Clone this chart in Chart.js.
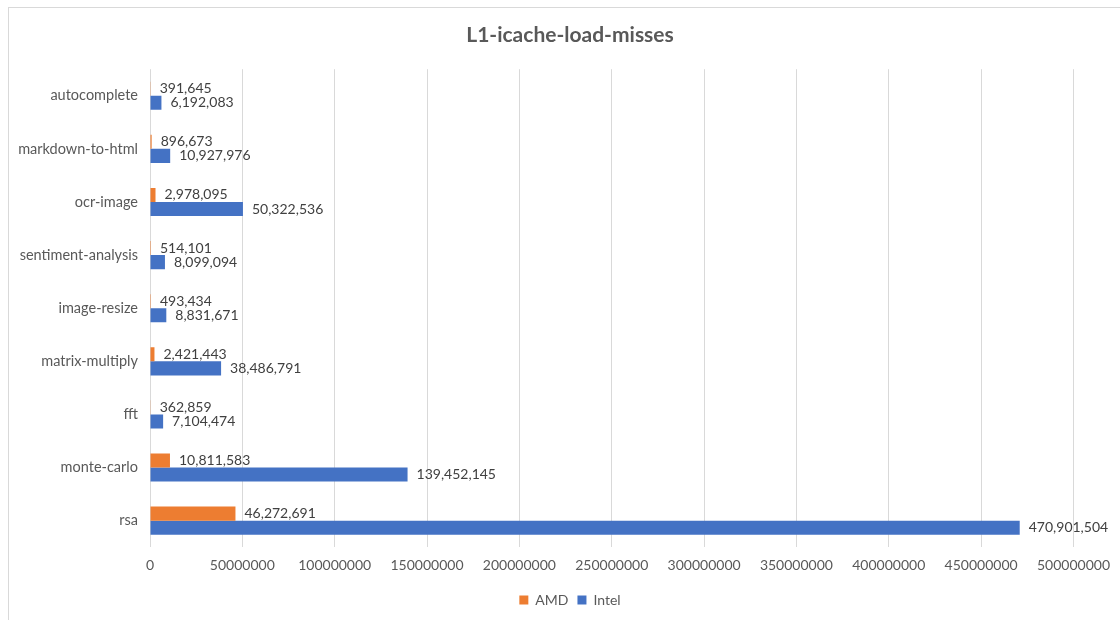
<!DOCTYPE html>
<html>
<head>
<meta charset="utf-8">
<script src="https://cdn.jsdelivr.net/npm/chart.js@4"></script>
<style>
  body { margin: 0; background: #fff; }
  #frame {
    position: absolute; left: 8px; top: 7px;
    width: 1112px; height: 613px;
    border-left: 1px solid #d9d9d9; border-top: 1px solid #d9d9d9;
  }
</style>
</head>
<body>
<div id="frame"><canvas id="grafico" width="1111" height="612"></canvas></div>
<script>
// dados
const categorias = ['autocomplete', 'markdown-to-html', 'ocr-image', 'sentiment-analysis', 'image-resize', 'matrix-multiply', 'fft', 'monte-carlo', 'rsa'];
const amd = [391645, 896673, 2978095, 514101, 493434, 2421443, 362859, 10811583, 46272691];
const intel = [6192083, 10927976, 50322536, 8099094, 8831671, 38486791, 7104474, 139452145, 470901504];
const ticksX = [0, 50000000, 100000000, 150000000, 200000000, 250000000, 300000000, 350000000, 400000000, 450000000, 500000000];

const fonte = "Lato, 'Open Sans', sans-serif";
const cinza = '#595959';

// Plugin simples para escrever o valor ao lado de cada barra
const rotulos = {
    id: 'rotulos',
    afterLayout(chart) {
        // título e legenda ficam centralizados um pouco mais à direita no original
        chart.legend.left += 28;
        chart.legend.right += 28;
        chart.titleBlock.left += 28;
        chart.titleBlock.right += 28;
    },
    afterDatasetsDraw(chart) {
        const ctx = chart.ctx;
        ctx.save();
        ctx.font = '14px ' + fonte;
        ctx.fillStyle = '#404040';
        ctx.textAlign = 'left';
        ctx.textBaseline = 'middle';
        chart.data.datasets.forEach((ds, i) => {
            chart.getDatasetMeta(i).data.forEach((bar, j) => {
                ctx.fillText(ds.data[j].toLocaleString('en-US'), bar.x + 9, bar.y);
            });
        });
        ctx.restore();
    }
};

new Chart(document.getElementById('grafico').getContext('2d'), {
    type: 'bar',
    data: {
        labels: categorias,
        datasets: [
            { label: 'AMD', data: amd, backgroundColor: '#ED7D31' },
            { label: 'Intel', data: intel, backgroundColor: '#4472C4' }
        ]
    },
    options: {
        indexAxis: 'y',
        responsive: false,
        animation: false,
        categoryPercentage: 0.53,
        barPercentage: 1,
        layout: { padding: { left: 0, right: 45, top: 0, bottom: 3 } },
        plugins: {
            title: {
                display: true,
                text: 'L1-icache-load-misses',
                color: cinza,
                font: { family: fonte, size: 21, weight: 'bold' },
                padding: { top: 15, bottom: 21 }
            },
            legend: {
                position: 'bottom',
                labels: {
                    color: cinza,
                    font: { family: fonte, size: 14 },
                    boxWidth: 9,
                    boxHeight: 9,
                    padding: 9
                }
            },
            tooltip: { enabled: false }
        },
        scales: {
            x: {
                min: 0,
                max: 500000000,
                afterBuildTicks: (axis) => { axis.ticks = ticksX.map(v => ({ value: v })); },
                ticks: {
                    color: cinza,
                    font: { family: fonte, size: 14 },
                    padding: 10,
                    callback: (v) => String(v)
                },
                grid: { color: '#d9d9d9', drawTicks: false },
                border: { display: false }
            },
            y: {
                afterFit: (axis) => { axis.width = 141; },
                ticks: {
                    color: cinza,
                    font: { family: fonte, size: 14.5 },
                    padding: 12
                },
                grid: { display: false, drawTicks: false },
                border: { display: false }
            }
        }
    },
    plugins: [rotulos]
});
</script>
</body>
</html>
